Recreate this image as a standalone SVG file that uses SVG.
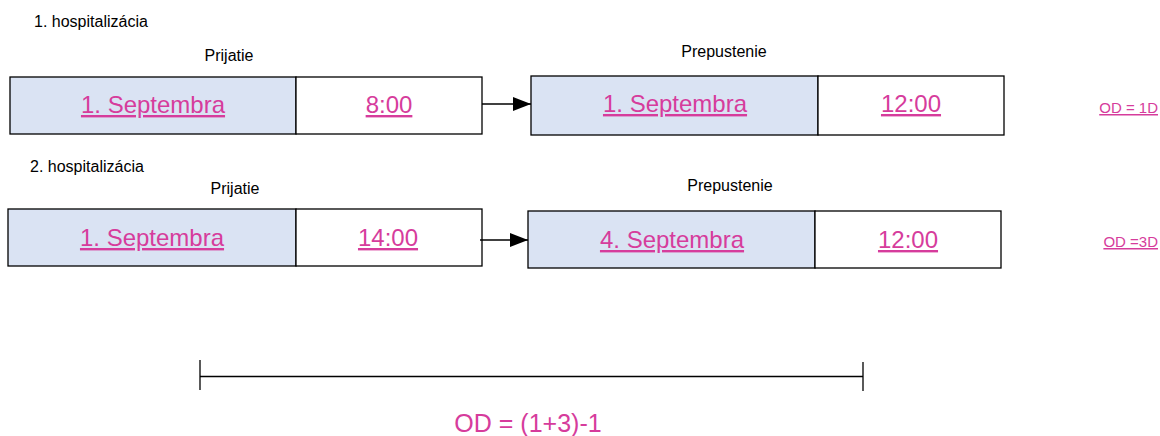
<svg xmlns="http://www.w3.org/2000/svg" width="1160" height="436" viewBox="0 0 1160 436">
<defs>
<style>
.box{stroke:#000;stroke-width:1.3}
.date{fill:#DAE3F3}
.time{fill:#fff}
.v{font-family:"Liberation Sans",Arial,sans-serif;font-size:24px;fill:#D63C9C;text-decoration:underline;text-anchor:middle}
.lbl{font-family:"Liberation Sans",Arial,sans-serif;font-size:16px;fill:#000}
.c{text-anchor:middle}
.od{font-family:"Liberation Sans",Arial,sans-serif;font-size:15px;fill:#D63C9C;text-decoration:underline;text-anchor:end}
.conn{stroke:#000;stroke-width:1.3;fill:none}
</style>
<marker id="ah" markerWidth="18" markerHeight="14" refX="18" refY="7" orient="auto" markerUnits="userSpaceOnUse" viewBox="0 0 18 14">
<path d="M0,0 L18,7 L0,14 z" fill="#000"/>
</marker>
</defs>
<rect width="1160" height="436" fill="#fff"/>
<text class="lbl" x="34" y="27">1. hospitalizácia</text>
<text class="lbl c" x="229" y="61">Prijatie</text>
<text class="lbl c" x="724" y="57">Prepustenie</text>
<g id="h1-prijatie">
<rect class="box date" x="10" y="77" width="286" height="57"/>
<rect class="box time" x="296" y="77" width="186" height="57"/>
<text class="v" x="153" y="113">1. Septembra</text>
<text class="v" x="389" y="113">8:00</text>
</g>
<g id="h1-prepustenie">
<rect class="box date" x="531" y="76" width="287" height="59"/>
<rect class="box time" x="818" y="76" width="186" height="59"/>
<text class="v" x="675" y="112">1. Septembra</text>
<text class="v" x="911" y="112">12:00</text>
</g>
<text class="od" x="1158" y="113">OD = 1D</text>
<text class="lbl" x="30" y="172">2. hospitalizácia</text>
<text class="lbl c" x="235" y="194">Prijatie</text>
<text class="lbl c" x="730" y="191">Prepustenie</text>
<g id="h2-prijatie">
<rect class="box date" x="8" y="209" width="288" height="57"/>
<rect class="box time" x="296" y="209" width="186" height="57"/>
<text class="v" x="152" y="246">1. Septembra</text>
<text class="v" x="388" y="246">14:00</text>
</g>
<g id="h2-prepustenie">
<rect class="box date" x="528" y="211" width="287" height="57"/>
<rect class="box time" x="815" y="211" width="186" height="57"/>
<text class="v" x="672" y="248">4. Septembra</text>
<text class="v" x="908" y="248">12:00</text>
</g>
<text class="od" x="1158" y="247">OD =3D</text>
<g id="connectors">
<line class="conn" x1="482" y1="104" x2="531" y2="104" marker-end="url(#ah)"/>
<line class="conn" x1="480" y1="240" x2="528" y2="240" marker-end="url(#ah)"/>
<line class="conn" x1="200" y1="376.5" x2="863" y2="376.5"/>
<line class="conn" x1="200" y1="360" x2="200" y2="390"/>
<line class="conn" x1="863" y1="362" x2="863" y2="391"/>
</g>
<text x="528" y="432" font-family="'Liberation Sans',Arial,sans-serif" font-size="25" fill="#D63C9C" text-anchor="middle">OD = (1+3)-1</text>
</svg>
